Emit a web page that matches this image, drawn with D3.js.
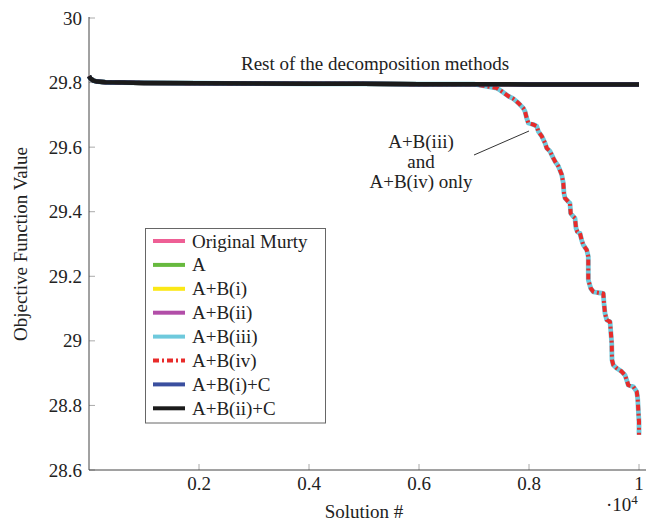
<!DOCTYPE html>
<html>
<head>
<meta charset="utf-8">
<script src="https://cdn.jsdelivr.net/npm/d3@7/dist/d3.min.js"></script>
<style>
  html, body { margin: 0; padding: 0; background: #fff; }
  svg { display: block; }
  text { font-family: "Liberation Serif", "Times New Roman", serif; fill: #222; }
</style>
</head>
<body>
<svg id="chart" width="646" height="521"></svg>
<script>
// ---------- data ----------
const seriesNames = ["Original Murty", "A", "A+B(i)", "A+B(ii)", "A+B(iii)", "A+B(iv)", "A+B(i)+C", "A+B(ii)+C"];
const seriesColors = ["#ee5f95", "#67b93e", "#fbe816", "#b24ea8", "#6ec9dc", "#e82b2a", "#3a4f9f", "#1b1b1b"];

// common part shared by all decomposition methods (solution #, objective value)
const flatX = [0, 30, 80, 150, 300, 600, 1000, 2000, 3000, 4000, 5000, 6000, 7000, 7413, 8000, 9000, 10000];
const flatY = [29.82, 29.812, 29.806, 29.803, 29.801, 29.8, 29.799, 29.798, 29.797, 29.796, 29.796, 29.795, 29.795, 29.795, 29.794, 29.794, 29.794];

// descending part only for A+B(iii) and A+B(iv)
const stairX = [7413, 7504, 7624, 7715, 7805, 7896, 7927, 7958, 7987, 8078, 8140, 8169, 8231, 8291, 8322, 8382, 8442, 8473, 8533, 8595,
  8624, 8636, 8655, 8715, 8745, 8758, 8805, 8836, 8855, 8878, 8927, 8958, 8987, 9049, 9078, 9078, 9122, 9169, 9260, 9351,
  9364, 9382, 9413, 9473, 9485, 9504, 9509, 9533, 9595, 9685, 9745, 9776, 9805, 9896, 9958, 9976, 9987, 10000, 10000];
const stairY = [29.783, 29.773, 29.758, 29.750, 29.737, 29.721, 29.711, 29.690, 29.675, 29.670, 29.665, 29.649, 29.634, 29.613, 29.597, 29.587, 29.566, 29.556, 29.541, 29.515,
  29.488, 29.457, 29.442, 29.431, 29.426, 29.395, 29.385, 29.380, 29.349, 29.338, 29.333, 29.312, 29.297, 29.282, 29.261, 29.189, 29.163, 29.152, 29.149, 29.147,
  29.116, 29.085, 29.065, 29.059, 29.034, 28.993, 28.941, 28.925, 28.915, 28.905, 28.894, 28.879, 28.863, 28.858, 28.843, 28.822, 28.786, 28.75, 28.709];

const xTickValues = [2000, 4000, 6000, 8000, 10000];
const xTickLabels = ["0.2", "0.4", "0.6", "0.8", "1"];
const yTickValues = [28.6, 28.8, 29, 29.2, 29.4, 29.6, 29.8, 30];
const yTickLabels = ["28.6", "28.8", "29", "29.2", "29.4", "29.6", "29.8", "30"];

// ---------- build ----------
const svg = d3.select("#chart");
const x = d3.scaleLinear().domain([0, 10000]).range([89, 639]);
const y = d3.scaleLinear().domain([28.6, 30]).range([470, 18]);

const flatPts = flatX.map((v, i) => [v, flatY[i]]);
const cut = flatX.indexOf(7413);
const descPts = flatPts.slice(0, cut).concat(stairX.map((v, i) => [v, stairY[i]]));

const line = d3.line().x(d => x(d[0])).y(d => y(d[1]));

// ticks (inward, light)
const tickG = svg.append("g");
yTickValues.forEach(v => {
  tickG.append("line").attr("x1", x(0)).attr("x2", x(0) + 6).attr("y1", y(v)).attr("y2", y(v))
    .attr("stroke", "#aaa").attr("stroke-width", 1);
});
xTickValues.forEach(v => {
  tickG.append("line").attr("x1", x(v)).attr("x2", x(v)).attr("y1", y(28.6)).attr("y2", y(28.6) - 6)
    .attr("stroke", "#aaa").attr("stroke-width", 1);
});

// axis lines
svg.append("line").attr("x1", x(0)).attr("x2", x(0)).attr("y1", y(30) - 1).attr("y2", y(28.6))
  .attr("stroke", "#444").attr("stroke-width", 1);
svg.append("line").attr("x1", x(0)).attr("x2", 646).attr("y1", y(28.6)).attr("y2", y(28.6))
  .attr("stroke", "#444").attr("stroke-width", 1);

// tick labels
svg.append("g").selectAll("text").data(yTickValues).join("text")
  .attr("x", x(0) - 7).attr("y", d => y(d) + 6.5)
  .attr("text-anchor", "end").attr("font-size", 19)
  .text((d, i) => yTickLabels[i]);
svg.append("g").selectAll("text").data(xTickValues).join("text")
  .attr("x", d => x(d)).attr("y", 490)
  .attr("text-anchor", "middle").attr("font-size", 19)
  .text((d, i) => xTickLabels[i]);

// ·10^4
const mult = svg.append("text").attr("x", 606).attr("y", 511).attr("font-size", 19);
mult.append("tspan").text("·10");
mult.append("tspan").attr("dy", -7).attr("font-size", 13).text("4");

// axis titles
svg.append("text").attr("x", 364).attr("y", 518).attr("text-anchor", "middle").attr("font-size", 19).text("Solution #");
svg.append("text").attr("transform", "translate(27,244) rotate(-90)").attr("text-anchor", "middle")
  .attr("font-size", 19).text("Objective Function Value");

// series
const plotG = svg.append("g");
seriesNames.forEach((name, i) => {
  const pts = (name === "A+B(iii)" || name === "A+B(iv)") ? descPts : flatPts;
  const p = plotG.append("path").datum(pts).attr("d", line)
    .attr("fill", "none").attr("stroke", seriesColors[i])
    .attr("stroke-linejoin", "round")
    .attr("stroke-width", name === "A+B(iii)" ? 4.8 : (name === "A+B(iv)" ? 4 : 4.5));
  if (name === "A+B(iv)") p.attr("stroke-dasharray", "6,3,2,3");
});

// annotations
svg.append("text").attr("x", 375).attr("y", 70).attr("text-anchor", "middle").attr("font-size", 19)
  .text("Rest of the decomposition methods");
const ann = [["A+B(iii)", 148], ["and", 168], ["A+B(iv) only", 188]];
ann.forEach(a => svg.append("text").attr("x", 421).attr("y", a[1]).attr("text-anchor", "middle")
  .attr("font-size", 19).text(a[0]));
svg.append("line").attr("x1", 474).attr("y1", 155).attr("x2", 529).attr("y2", 131)
  .attr("stroke", "#333").attr("stroke-width", 1);

// legend
const lg = svg.append("g");
const lgTop = 229, lgStep = 23.9;
lg.append("rect").attr("x", 145.5).attr("y", lgTop - 0.5).attr("width", 180).attr("height", 423.5 - lgTop)
  .attr("fill", "#fff").attr("stroke", "#666").attr("stroke-width", 1);
seriesNames.forEach((name, i) => {
  const cy = lgTop + 12 + i * lgStep;
  const l = lg.append("line").attr("x1", 153).attr("x2", 185).attr("y1", cy).attr("y2", cy)
    .attr("stroke", seriesColors[i]).attr("stroke-width", 4);
  if (name === "A+B(iv)") l.attr("stroke-dasharray", "6,3,2,3");
  lg.append("text").attr("x", 192).attr("y", cy + 6.5).attr("font-size", 19).text(name);
});
</script>
</body>
</html>
